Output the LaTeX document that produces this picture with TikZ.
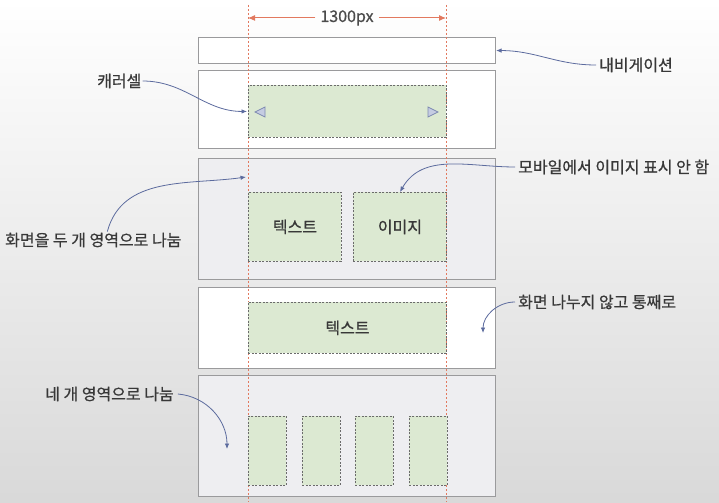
\documentclass[tikz,border=0pt]{standalone}
\usepackage{fontspec}
\setmainfont{Noto Sans CJK KR}[FakeBold=0.7]
\usetikzlibrary{arrows.meta}
\definecolor{boxline}{HTML}{9A9A9C}
\definecolor{secgray}{HTML}{EEEEF1}
\definecolor{areagreen}{HTML}{DCE9D2}
\definecolor{guidered}{HTML}{E2795F}
\definecolor{callblue}{HTML}{5C6B9E}
\definecolor{tribule}{HTML}{C5CCE2}
\definecolor{txtgray}{HTML}{383838}

\begin{document}
\begin{tikzpicture}[x=1pt,y=-1pt,font=\fontsize{16}{18}\selectfont,
  sect/.style={draw=boxline,line width=1.1pt,anchor=north west,inner sep=0pt,minimum width=297pt},
  area/.style={draw=black!58,fill=areagreen,dash pattern=on 2pt off 1.5pt,line width=0.9pt,anchor=north west,inner sep=0pt,text=txtgray},
  callout/.style={draw=callblue,line width=0.8pt,-{Latex[length=5.5pt,width=4.5pt]}},
  lbl/.style={text=txtgray,inner sep=1pt},
  guide/.style={draw=guidered,line width=0.6pt,dash pattern=on 2pt off 2pt},
  dimarrow/.style={draw=guidered,line width=1pt,-{Latex[length=7pt,width=6pt]}}]

\shade[top color=white,bottom color=black!15] (0,0) rectangle (719,502);

\node[sect,fill=white,minimum height=26pt] (nav) at (198,37) {};
\node[sect,fill=white,minimum height=78pt] (car) at (198,70) {};
\node[sect,fill=secgray,minimum height=121pt] (split) at (198,158) {};
\node[sect,fill=white,minimum height=81pt] (whole) at (198,287) {};
\node[sect,fill=secgray,minimum height=121pt] (four) at (198,375) {};

\draw[guide] (248,5) -- (248,502);
\draw[guide] (446,5) -- (446,502);

\node[lbl,inner sep=5pt,text=black!70] (dim) at (347,18) {1300px};
\coordinate (dimL) at (248,18);
\coordinate (dimR) at (446,18);
\draw[dimarrow] (dim.west) -- (dimL);
\draw[dimarrow] (dim.east) -- (dimR);

\node[area,minimum width=198pt,minimum height=52pt] (carin) at (248,85) {};
\filldraw[fill=tribule,draw=callblue!80,line width=0.8pt] (255,112) -- (265,107) -- (265,117) -- cycle;
\filldraw[fill=tribule,draw=callblue!80,line width=0.8pt] (438,112) -- (428,107) -- (428,117) -- cycle;

\node[area,minimum width=93pt,minimum height=69pt] (txt) at (248,192) {텍스트};
\node[area,minimum width=93pt,minimum height=69pt] (img) at (353,192) {이미지};
\node[area,minimum width=198pt,minimum height=51pt] (txtall) at (248,302) {텍스트};
\foreach \x [count=\i] in {248,302,355,409}
  \node[area,minimum width=38pt,minimum height=69pt] (q\i) at (\x,416) {};

\node[lbl,anchor=west] (navlbl) at (598,65) {내비게이션};
\node[lbl,anchor=west] (carlbl) at (96,81) {캐러셀};
\node[lbl,anchor=west] (splitlbl) at (4,240) {화면을 두 개 영역으로 나눔};
\node[lbl,anchor=west] (mobilelbl) at (517,167) {모바일에서 이미지 표시 안 함};
\node[lbl,anchor=west] (wholelbl) at (517,302) {화면 나누지 않고 통째로};
\node[lbl,anchor=west] (fourlbl) at (44,394) {네 개 영역으로 나눔};

\coordinate (splitpt) at (246,177);
\coordinate (wholept) at (483,333);
\coordinate (fourpt) at (227,449);

\draw[callout] ([xshift=-2pt]navlbl.west) to[out=180,in=0] (nav.east);
\draw[callout] (carlbl.east) to[out=0,in=180] ([xshift=-1pt]carin.west);
\draw[callout] ([xshift=14pt]splitlbl.north) to[out=75,in=188] (splitpt);
\draw[callout] ([xshift=-2pt]mobilelbl.west) to[out=180,in=60] (img.north);
\draw[callout] ([xshift=-2pt]wholelbl.west) to[out=180,in=90] (wholept);
\draw[callout] ([xshift=3pt]fourlbl.east) to[out=-5,in=90] (fourpt);

\end{tikzpicture}
\end{document}
